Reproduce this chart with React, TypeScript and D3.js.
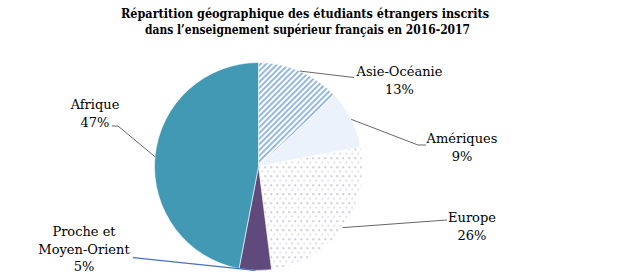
import React from "react";
import * as d3 from "d3";

const categories = ["Asie-Océanie", "Amériques", "Europe", "Proche et Moyen-Orient", "Afrique"];
const values = [13, 9, 26, 5, 47];
const labelLines = [["Asie-Océanie", "13%"], ["Amériques", "9%"], ["Europe", "26%"], ["Proche et", "Moyen-Orient", "5%"], ["Afrique", "47%"]];
const titleLines = ["Répartition géographique des étudiants étrangers inscrits", "dans l’enseignement supérieur français en 2016-2017"];

const W = 618, H = 279;
const cx = 258.5, cy = 166.5, R = 104;
const fills = ["url(#pAsia)", "url(#pAm)", "url(#pEu)", "#604A7B", "#4199B4"];
const labelPos = [
  { x: 399.5, y: 76, pts: [[354, 77.5]] },
  { x: 462, y: 143, pts: [[418, 145], [426, 145]] },
  { x: 472, y: 222, pts: [[447, 220]] },
  { x: 84, y: 236, pts: [[133, 257.7]] },
  { x: 95, y: 109, pts: [[118, 126], [112, 126]] },
];
const lineColors = ["#404040", "#404040", "#404040", "#4472C4", "#404040"];

export default function App() {
  const pie = d3.pie<number>().value((d) => d).sort(null).startAngle(0).endAngle(2 * Math.PI);
  const arcs = pie(values);
  const arc = d3.arc<d3.PieArcDatum<number>>().innerRadius(0).outerRadius(R);
  const font = "'DejaVu Serif', serif";
  return (
    <svg width={W} height={H} style={{ position: "absolute", left: 0, top: 0, background: "#fff" }}>
      <defs>
        <pattern id="pAsia" width="4" height="4" patternUnits="userSpaceOnUse" patternTransform="rotate(45)">
          <rect width="4" height="4" fill="#fff" />
          <rect width="1.7" height="4" fill="#84ACE4" />
        </pattern>
        <pattern id="pAm" width="2" height="2" patternUnits="userSpaceOnUse">
          <rect width="2" height="2" fill="#fff" />
          <rect width="1" height="1" fill="#B4CCF0" />
        </pattern>
        <pattern id="pEu" width="6" height="9" patternUnits="userSpaceOnUse">
          <rect width="6" height="9" fill="#fff" />
          <rect x="0" y="0" width="1.3" height="1.3" fill="#8A8AAE" />
          <rect x="3" y="4.5" width="1.3" height="1.3" fill="#B8B8D0" />
        </pattern>
      </defs>
      <g fontFamily={font} textAnchor="middle" fontWeight="bold" fill="#000">
        <text x={305} y={18} fontSize={13.5} textLength={368} lengthAdjust="spacingAndGlyphs">{titleLines[0]}</text>
        <text x={307.5} y={34} fontSize={13.5} textLength={325} lengthAdjust="spacingAndGlyphs">{titleLines[1]}</text>
      </g>
      <g transform={`translate(${cx},${cy})`}>
        {arcs.map((a, i) => (
          <path key={categories[i]} d={arc(a) || ""} fill={fills[i]} stroke="#fff" strokeWidth={0.6} />
        ))}
      </g>
      {arcs.map((a, i) => {
        const mid = (a.startAngle + a.endAngle) / 2;
        const sx = cx + R * Math.sin(mid);
        const sy = cy - R * Math.cos(mid);
        const pts = [[sx, sy], ...labelPos[i].pts];
        return (
          <polyline key={"l" + i} points={pts.map((p) => p.join(",")).join(" ")} fill="none" stroke={lineColors[i]} strokeWidth={i === 3 ? 1.2 : 0.8} />
        );
      })}
      <g fontFamily={font} fontSize={13} textAnchor="middle" fill="#000">
        {labelLines.map((lines, i) => (
          <text key={"t" + i} x={labelPos[i].x} y={labelPos[i].y}>
            {lines.map((ln, j) => (
              <tspan key={j} x={labelPos[i].x} dy={j === 0 ? 0 : 17.5}>{ln}</tspan>
            ))}
          </text>
        ))}
      </g>
    </svg>
  );
}
